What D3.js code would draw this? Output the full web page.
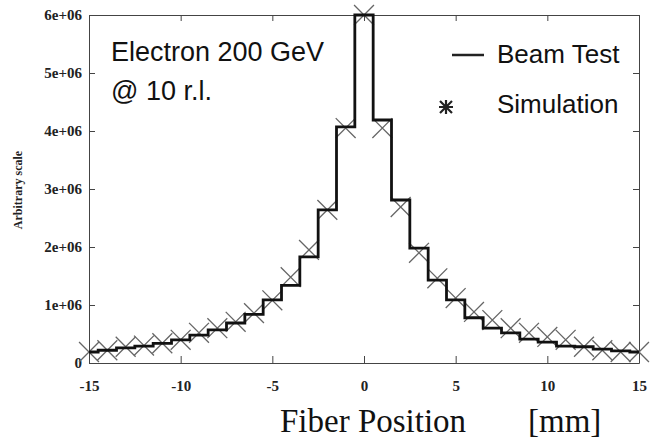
<!DOCTYPE html>
<html>
<head>
<meta charset="utf-8">
<script src="https://cdn.jsdelivr.net/npm/d3@7"></script>
<style>
body{margin:0;background:#fff;}
svg{display:block;}
.tick text{font-family:"Liberation Serif",serif;font-weight:bold;fill:#222;}
</style>
</head>
<body>
<svg width="666" height="440"></svg>
<script>
// fiber positions (mm), one bin per mm
var positions = [-15,-14,-13,-12,-11,-10,-9,-8,-7,-6,-5,-4,-3,-2,-1,0,1,2,3,4,5,6,7,8,9,10,11,12,13,14,15];
var beamTest = [0.19e6,0.22e6,0.26e6,0.29e6,0.34e6,0.40e6,0.48e6,0.57e6,0.69e6,0.84e6,1.09e6,1.34e6,1.83e6,2.64e6,4.07e6,
  6.0e6,4.19e6,2.81e6,1.98e6,1.43e6,1.09e6,0.78e6,0.60e6,0.52e6,0.41e6,0.36e6,0.29e6,0.28e6,0.24e6,0.21e6,0.19e6];
var simulation = [0.19e6,0.22e6,0.28e6,0.30e6,0.34e6,0.40e6,0.52e6,0.60e6,0.71e6,0.86e6,1.08e6,1.48e6,1.95e6,2.64e6,4.05e6,
  6.0e6,4.05e6,2.69e6,1.90e6,1.46e6,1.12e6,0.88e6,0.74e6,0.60e6,0.52e6,0.45e6,0.40e6,0.28e6,0.22e6,0.19e6,0.19e6];
var xTicks = [-15,-10,-5,0,5,10,15];
var yTicks = [0,1e6,2e6,3e6,4e6,5e6,6e6];

var margin = {left:89,right:27,top:15,bottom:77};
var width = 666, height = 440;
var svg = d3.select('svg');

var x = d3.scaleLinear().domain([-15,15]).range([margin.left,width-margin.right]);
var y = d3.scaleLinear().domain([0,6e6]).range([height-margin.bottom,margin.top]);

var frameColor = '#444';

// axes
svg.append('g')
.attr('transform','translate(0,'+(height-margin.bottom)+')')
.call(d3.axisBottom(x).tickValues(xTicks).tickSizeInner(-7).tickSizeOuter(0).tickPadding(17).tickFormat(function(d){return String(d);}))
.call(function(g){g.select('.domain').attr('stroke',frameColor);g.selectAll('line').attr('stroke',frameColor);g.selectAll('text').attr('font-size',15);});

svg.append('g')
.attr('transform','translate(0,'+margin.top+')')
.call(d3.axisTop(x).tickValues(xTicks).tickSizeInner(-6).tickSizeOuter(0).tickFormat(''))
.call(function(g){g.select('.domain').attr('stroke',frameColor);g.selectAll('line').attr('stroke',frameColor);});

svg.append('g')
.attr('transform','translate('+margin.left+',0)')
.call(d3.axisLeft(y).tickValues(yTicks).tickSizeInner(-6).tickSizeOuter(0).tickPadding(7)
  .tickFormat(function(d){return d===0?'0':(d/1e6)+'e+06';}))
.call(function(g){g.select('.domain').attr('stroke',frameColor);g.selectAll('line').attr('stroke',frameColor);g.selectAll('text').attr('font-size',15);});

svg.append('g')
.attr('transform','translate('+(width-margin.right)+',0)')
.call(d3.axisRight(y).tickValues(yTicks).tickSizeInner(-6).tickSizeOuter(0).tickFormat(''))
.call(function(g){g.select('.domain').attr('stroke',frameColor);g.selectAll('line').attr('stroke',frameColor);});

// axis titles
svg.append('text')
.attr('transform','translate(22,190) rotate(-90)')
.attr('text-anchor','middle')
.attr('font-family','Liberation Serif, serif')
.attr('font-size',12)
.attr('font-weight','bold')
.attr('fill','#222')
.text('Arbitrary scale');

svg.append('text')
.attr('x',280).attr('y',432)
.attr('font-family','Liberation Serif, serif')
.attr('font-size',33)
.attr('fill','#111')
.text('Fiber Position');

svg.append('text')
.attr('x',528).attr('y',432)
.attr('font-family','Liberation Serif, serif')
.attr('font-size',33)
.attr('fill','#111')
.text('[mm]');

// simulation markers
var cross = d3.symbol().type(d3.symbolX).size(260);
svg.append('g')
.selectAll('path')
.data(positions)
.enter()
.append('path')
.attr('d',cross)
.attr('transform',function(d,i){return 'translate('+x(d)+','+y(simulation[i])+')';})
.attr('fill','none')
.attr('stroke','#666')
.attr('stroke-width',1.3);

// beam test step histogram
var step = d3.line()
.x(function(d){return x(d);})
.y(function(d,i){return y(beamTest[i]);})
.curve(d3.curveStep);

svg.append('path')
.attr('d',step(positions))
.attr('fill','none')
.attr('stroke','#111')
.attr('stroke-width',2.8);

// labels and legend
var sans = 'Liberation Sans, Arial, sans-serif';
svg.append('text').attr('x',111).attr('y',61).attr('font-family',sans).attr('font-size',27).attr('fill','#111').text('Electron 200 GeV');
svg.append('text').attr('x',111).attr('y',100).attr('font-family',sans).attr('font-size',27).attr('fill','#111').text('@ 10 r.l.');

svg.append('line').attr('x1',452).attr('x2',484).attr('y1',55).attr('y2',55).attr('stroke','#222').attr('stroke-width',2.5);
svg.append('text').attr('x',497).attr('y',63).attr('font-family',sans).attr('font-size',26).attr('fill','#111').text('Beam Test');

svg.append('path')
.attr('d','M-6,-6L6,6M-6,6L6,-6M-7,0L7,0M0,-7L0,7')
.attr('transform','translate(446,107)')
.attr('fill','none').attr('stroke','#222').attr('stroke-width',2.2);
svg.append('text').attr('x',497).attr('y',113).attr('font-family',sans).attr('font-size',26).attr('fill','#111').text('Simulation');
</script>
</body>
</html>
